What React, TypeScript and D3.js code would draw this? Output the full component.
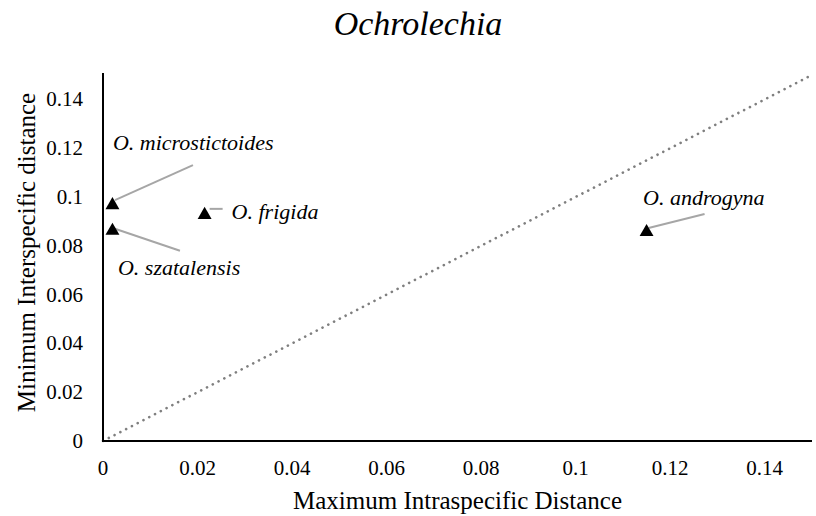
import React from "react";
import * as d3 from "d3";

const species = ["O. microstictoides", "O. szatalensis", "O. frigida", "O. androgyna"];
const maxIntra = [0.002, 0.002, 0.0215, 0.115];
const minInter = [0.0975, 0.087, 0.0935, 0.0865];
const xTicks = [0, 0.02, 0.04, 0.06, 0.08, 0.1, 0.12, 0.14];
const yTicks = [0, 0.02, 0.04, 0.06, 0.08, 0.1, 0.12, 0.14];
const title = "Ochrolechia";
const xTitle = "Maximum Intraspecific Distance";
const yTitle = "Minimum Interspecific distance";

// label layout (pixel offsets relative to each point): [labelDx, labelDy, lineStartDx, lineStartDy, lineEndDx, lineEndDy]
const labelLayout = [
  [0.5, -53, 80.5, -38, 2.5, -3],
  [5.5, 46, 67.5, 22, 2.5, 0],
  [27, 6, 18, -4, 5, -4],
  [-3.5, -25, 58, -16, 2, -2],
];

const W = 816;
const H = 516;
const left = 103;
const right = 812;
const top = 75;
const bottom = 441;

const serif = "'Liberation Serif', 'DejaVu Serif', serif";

export default function App() {
  const x = d3.scaleLinear().domain([0, 0.15]).range([left, right]);
  const y = d3.scaleLinear().domain([0, 0.15]).range([bottom, top]);
  const triSize = 84;
  const tri = d3.symbol().type(d3.symbolTriangle).size(triSize)() as string;
  const s = Math.sqrt((triSize * 4) / Math.sqrt(3));
  const h = (s * Math.sqrt(3)) / 2;
  const txt = (size: number, italic = false): React.CSSProperties => ({
    fontFamily: serif,
    fontSize: size,
    fontStyle: italic ? "italic" : "normal",
  });

  return (
    <svg
      width={W}
      height={H}
      style={{ position: "absolute", left: 0, top: 0, background: "#fff" }}
    >
      <rect width={W} height={H} fill="#fff" />
      <text x={418} y={35} style={txt(34, true)} textAnchor="middle" fill="#000">
        {title}
      </text>
      {/* diagonal 1:1 line */}
      <line
        x1={x(0)}
        y1={y(0)}
        x2={x(0.15)}
        y2={y(0.15)}
        stroke="#7f7f7f"
        strokeWidth={2.6}
        strokeDasharray="0.1 6.4"
        strokeLinecap="round"
      />
      {/* axes */}
      <line x1={left} y1={bottom} x2={right} y2={bottom} stroke="#000" strokeWidth={2} />
      <line x1={left} y1={bottom + 1} x2={left} y2={top - 2} stroke="#000" strokeWidth={2} />
      {xTicks.map((t) => (
        <text key={"x" + t} x={x(t)} y={475} style={txt(21)} textAnchor="middle" fill="#000">
          {String(t)}
        </text>
      ))}
      {yTicks.map((t) => (
        <text key={"y" + t} x={83} y={y(t) + 7} style={txt(21)} textAnchor="end" fill="#000">
          {String(t)}
        </text>
      ))}
      <text x={(295 + 620) / 2} y={509} style={txt(25)} textAnchor="middle" fill="#000">
        {xTitle}
      </text>
      <text
        transform={`translate(35, 252.5) rotate(-90)`}
        style={txt(25)}
        textAnchor="middle"
        fill="#000"
      >
        {yTitle}
      </text>
      {/* leader lines */}
      {species.map((sp, i) => {
        const px = x(maxIntra[i]);
        const py = y(minInter[i]);
        const L = labelLayout[i];
        return (
          <line
            key={"l" + sp}
            x1={px + L[2]}
            y1={py + L[3]}
            x2={px + L[4]}
            y2={py + L[5]}
            stroke="#a6a6a6"
            strokeWidth={2}
          />
        );
      })}
      {/* markers */}
      {species.map((sp, i) => (
        <path
          key={"m" + sp}
          d={tri}
          transform={`translate(${x(maxIntra[i])}, ${y(minInter[i]) + h / 6})`}
          fill="#000"
        />
      ))}
      {/* labels */}
      {species.map((sp, i) => {
        const L = labelLayout[i];
        return (
          <text
            key={"t" + sp}
            x={x(maxIntra[i]) + L[0]}
            y={y(minInter[i]) + L[1]}
            style={txt(22, true)}
            fill="#000"
          >
            {sp}
          </text>
        );
      })}
    </svg>
  );
}
